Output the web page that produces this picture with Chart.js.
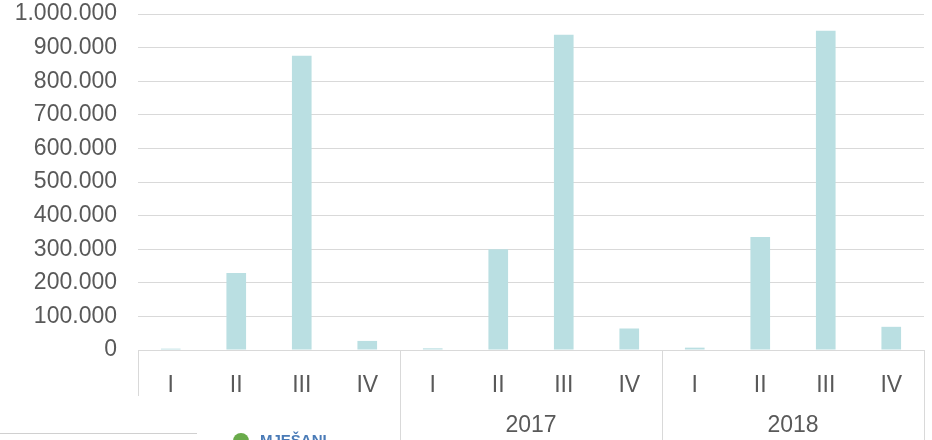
<!DOCTYPE html>
<html>
<head>
<meta charset="utf-8">
<script src="https://cdn.jsdelivr.net/npm/chart.js@4/dist/chart.umd.min.js"></script>
<style>
  html, body { margin: 0; padding: 0; background: #fff; }
  #wrap { position: relative; width: 932px; height: 440px; overflow: hidden; }
  #foot-line { position: absolute; left: 0; top: 433px; width: 197px; height: 1px; background: #d0d0d0; }
  #foot-dot { position: absolute; left: 233px; top: 433px; width: 16px; height: 16px; border-radius: 50%; background: #6aab4b; }
  #foot-text { position: absolute; left: 260px; top: 431px; font: bold 15px "Liberation Sans", Arial, sans-serif; color: #4a7bb7; }
</style>
</head>
<body>
<div id="wrap">
  <canvas id="mycanvas" width="932" height="440"></canvas>
  <div id="foot-line"></div>
  <div id="foot-dot"></div>
  <div id="foot-text">MJEŠANI</div>
</div>
<script>
// data
var quarters = ['I', 'II', 'III', 'IV', 'I', 'II', 'III', 'IV', 'I', 'II', 'III', 'IV'];
var years = ['', '2017', '2018'];
var values = [4000, 229000, 876000, 27000, 5000, 300000, 938000, 64000, 7000, 336000, 950000, 69000];

var FONT = "'Liberation Sans', Arial, sans-serif";
var TXT = '#595959';
var LINE = '#d9d9d9';

function fmt(v) {
	return String(v).replace(/\B(?=(\d{3})+(?!\d))/g, '.');
}

// vertical separators between the year groups
var separators = {
	id: 'separators',
	afterDraw: function(chart) {
		var x = chart.scales.x;
		var ctx = chart.ctx;
		var area = chart.chartArea;
		ctx.save();
		ctx.strokeStyle = LINE;
		ctx.lineWidth = 1;
		var lines = [[area.left, x.bottom]];
		for (var i = 4; i < quarters.length; i += 4) {
			var px = (x.getPixelForValue(i - 1) + x.getPixelForValue(i)) / 2;
			lines.push([px, chart.height]);
		}
		lines.push([area.right, chart.height]);
		lines.forEach(function(l) {
			var px = Math.round(l[0]) + 0.5;
			ctx.beginPath();
			ctx.moveTo(px, area.bottom);
			ctx.lineTo(px, l[1]);
			ctx.stroke();
		});
		ctx.restore();
	}
};

var chartdata = {
	labels: quarters,
	datasets: [
		{
			label: 'MJEŠANI',
			backgroundColor: '#badfe2',
			borderWidth: 0,
			barPercentage: 0.3,
			categoryPercentage: 1,
			xAxisID: 'x',
			data: values
		}
	]
};

var ctx = document.getElementById('mycanvas');

var barGraph = new Chart(ctx, {
	type: 'bar',
	data: chartdata,
	plugins: [separators],
	options: {
		responsive: false,
		animation: false,
		layout: { padding: { left: 0, right: 8, top: 0, bottom: 0 } },
		plugins: { legend: { display: false }, tooltip: { enabled: false } },
		scales: {
			x: {
				position: 'bottom',
				weight: 0,
				grid: { display: false },
				border: { display: true, color: LINE, width: 1 },
				ticks: { color: TXT, font: { family: FONT, size: 23 }, padding: 14, maxRotation: 0, autoSkip: false },
				afterFit: function(s) { s.height = 46; }
			},
			year: {
				type: 'category',
				labels: years,
				position: 'bottom',
				weight: 1,
				offset: true,
				grid: { display: false, drawTicks: false },
				border: { display: false },
				ticks: { color: TXT, font: { family: FONT, size: 23 }, padding: 16, maxRotation: 0 },
				afterFit: function(s) { s.height = 44; }
			},
			y: {
				min: 0,
				max: 1000000,
				grid: { color: LINE, lineWidth: 1, drawTicks: false },
				border: { display: false },
				ticks: {
					stepSize: 100000,
					autoSkip: false,
					color: TXT,
					font: { family: FONT, size: 23 },
					padding: 21,
					callback: function(v) { return fmt(v); }
				},
				afterFit: function(s) { s.width = 138; s.paddingTop = 14; s.paddingBottom = 0; }
			}
		}
	}
});
</script>
</body>
</html>
